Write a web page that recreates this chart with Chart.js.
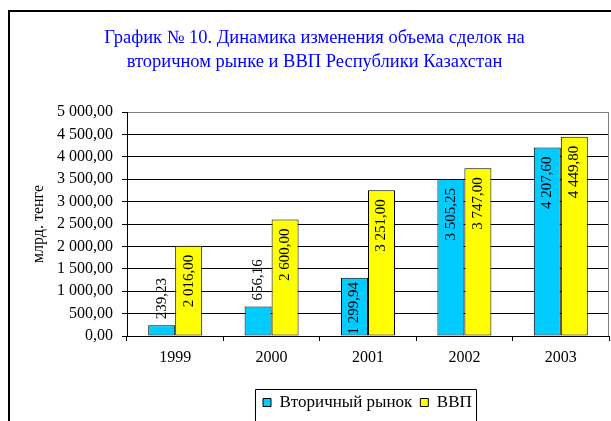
<!DOCTYPE html>
<html><head><meta charset="utf-8">
<script src="https://cdn.jsdelivr.net/npm/chart.js@4/dist/chart.umd.min.js"></script>
<style>html,body{margin:0;padding:0;background:#fff;}canvas{display:block;}</style>
</head><body>
<canvas id="c" width="611" height="421"></canvas>
<script>
// ---- data ----
const years = ['1999', '2000', '2001', '2002', '2003'];
const secondaryMarket = [239.23, 656.16, 1299.94, 3505.25, 4207.60];
const gdp = [2016.00, 2600.00, 3251.00, 3747.00, 4449.80];
const seriesNames = ['Вторичный рынок', 'ВВП'];
const titleLines = ['График № 10. Динамика изменения объема сделок на', 'вторичном рынке и ВВП Республики Казахстан'];
const yAxisTitle = 'млрд. тенге';
const yMin = 0, yMax = 5000, yStep = 500;

const FONT = '"Liberation Serif", "Times New Roman", serif';
Chart.defaults.font.family = FONT;
Chart.defaults.color = '#000';

function fmt(v) {
  const parts = Number(v).toFixed(2).split('.');
  return parts[0].replace(/\B(?=(\d{3})+(?!\d))/g, ' ') + ',' + parts[1];
}

const framePlugin = {
  id: 'frame',
  beforeDraw(chart) {
    const ctx = chart.ctx;
    ctx.save();
    ctx.fillStyle = '#fff';
    ctx.fillRect(0, 0, chart.width, chart.height);
    ctx.restore();
  },
  beforeDatasetsDraw(chart) {
    const {ctx, chartArea} = chart;
    ctx.save();
    ctx.strokeStyle = '#808080';
    ctx.lineWidth = 1;
    ctx.beginPath();
    ctx.moveTo(Math.round(chartArea.right) - 0.5, chartArea.top);
    ctx.lineTo(Math.round(chartArea.right) - 0.5, chartArea.bottom);
    ctx.stroke();
    ctx.restore();
  },
  afterDraw(chart) {
    const ctx = chart.ctx;
    ctx.save();
    ctx.strokeStyle = '#000';
    ctx.lineWidth = 2;
    ctx.beginPath();
    ctx.moveTo(9, chart.height + 5);
    ctx.lineTo(9, 11);
    ctx.lineTo(chart.width + 5, 11);
    ctx.stroke();
    const lg = chart.legend;
    if (lg && lg.legendHitBoxes && lg.legendHitBoxes.length) {
      const hb = lg.legendHitBoxes;
      const last = hb[hb.length - 1];
      const l = hb[0].left - 8, r = last.left + last.width + 4;
      const t = hb[0].top - 5;
      ctx.lineWidth = 1;
      ctx.beginPath();
      ctx.moveTo(Math.round(l) + 0.5, chart.height + 5);
      ctx.lineTo(Math.round(l) + 0.5, Math.round(t) + 0.5);
      ctx.lineTo(Math.round(r) + 0.5, Math.round(t) + 0.5);
      ctx.lineTo(Math.round(r) + 0.5, chart.height + 5);
      ctx.stroke();
    }
    ctx.restore();
  },
  afterLayout(chart) {
    const lg = chart.legend;
    if (lg) {
      const pad = lg.options.labels.padding;
      const w = lg.right - lg.left;
      lg.left = 263 - pad;
      lg.right = lg.left + w;
    }
    const tb = chart.titleBlock;
    if (tb) { tb.left += 10; tb.right += 10; }
  }
};

const barLabelPlugin = {
  id: 'barLabels',
  afterDatasetsDraw(chart) {
    const ctx = chart.ctx;
    ctx.save();
    ctx.font = '15px ' + FONT;
    ctx.fillStyle = '#000';
    ctx.textBaseline = 'middle';
    chart.data.datasets.forEach((ds, di) => {
      const meta = chart.getDatasetMeta(di);
      meta.data.forEach((bar, i) => {
        const txt = fmt(ds.data[i]);
        const tw = ctx.measureText(txt).width;
        const h = bar.base - bar.y;
        ctx.save();
        ctx.translate(bar.x, bar.y);
        ctx.rotate(-Math.PI / 2);
        if (h >= tw) {
          ctx.textAlign = 'right';
          const off = Math.min(9, h - tw - 1);
          ctx.fillText(txt, -off, 0);
        } else {
          ctx.textAlign = 'left';
          ctx.fillText(txt, 6, 0);
        }
        ctx.restore();
      });
    });
    ctx.restore();
  }
};

new Chart(document.getElementById('c'), {
  type: 'bar',
  data: {
    labels: years,
    datasets: [
      { label: seriesNames[0], data: secondaryMarket, backgroundColor: '#00CCFF', borderColor: '#000', borderWidth: 1, borderSkipped: false },
      { label: seriesNames[1], data: gdp, backgroundColor: '#FFFF00', borderColor: '#000', borderWidth: 1, borderSkipped: false }
    ]
  },
  options: {
    responsive: false,
    animation: false,
    devicePixelRatio: 1,
    layout: { padding: { left: 0, right: 2, top: 0, bottom: 0 } },
    datasets: { bar: { categoryPercentage: 0.56, barPercentage: 1.0 } },
    plugins: {
      title: {
        display: true,
        text: titleLines,
        color: '#0000FF',
        font: { family: FONT, size: 18.5, weight: 'normal', lineHeight: '24px' },
        padding: { top: 26, bottom: 38 }
      },
      legend: {
        display: true,
        position: 'bottom',
        align: 'start',
        labels: {
          color: '#000',
          font: { family: FONT, size: 17, style: 'normal', weight: 'normal' },
          boxWidth: 8,
          boxHeight: 8,
          padding: 8
        }
      },
      tooltip: { enabled: false }
    },
    scales: {
      x: {
        offset: true,
        grid: { display: true, drawOnChartArea: false, drawTicks: true, tickLength: 5, offset: true, color: '#000', tickColor: '#000' },
        border: { display: true, color: '#000', width: 1 },
        ticks: { color: '#000', font: { family: FONT, size: 16 }, padding: 7, maxRotation: 0 },
        afterFit(scale) { scale.height = 50; }
      },
      y: {
        min: yMin, max: yMax,
        grid: {
          color: (c) => (c.tick && c.tick.value === yMax ? '#808080' : '#000'),
          tickColor: '#000', tickLength: 5, drawTicks: true
        },
        border: { display: true, color: '#000', width: 1 },
        ticks: { stepSize: yStep, color: '#000', font: { family: FONT, size: 16 }, padding: 9, callback: (v) => fmt(v) },
        title: { display: true, text: yAxisTitle, color: '#000', font: { family: FONT, size: 16 }, padding: { top: 29, bottom: 0 } },
        afterFit(scale) { scale.width = 127; }
      }
    }
  },
  plugins: [framePlugin, barLabelPlugin]
});
</script>
</body></html>
